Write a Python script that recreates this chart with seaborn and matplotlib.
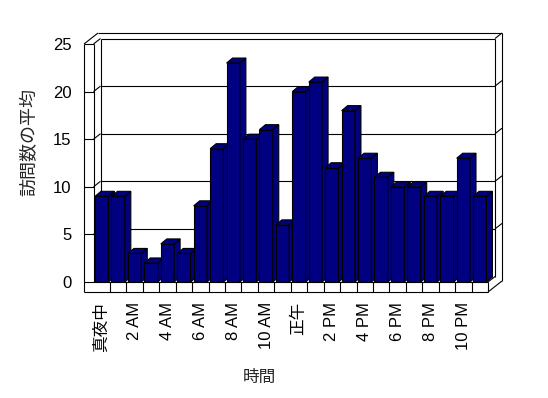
import matplotlib
matplotlib.use("Agg")
import matplotlib.pyplot as plt
import seaborn as sns
import pandas as pd
from matplotlib.patches import Polygon

hours = list(range(24))
visits = [9, 9, 3, 2, 4, 3, 8, 14, 23, 15, 16, 6, 20, 21, 12, 18, 13, 11, 10, 10, 9, 9, 13, 9]
tick_pos = [0, 2, 4, 6, 8, 10, 12, 14, 16, 18, 20, 22]
tick_labels = ["真夜中", "2 AM", "4 AM", "6 AM", "8 AM", "10 AM", "正午",
               "2 PM", "4 PM", "6 PM", "8 PM", "10 PM"]
y_ticks = [0, 5, 10, 15, 20, 25]
x_title = "時間"
y_title = "訪問数の平均"

sns.set_theme(style="white")
plt.rcParams["font.family"] = ["Liberation Sans", "Noto Sans CJK JP"]

W, H = 548, 398
fig = plt.figure(figsize=(W / 100, H / 100), dpi=100)
fig.patch.set_facecolor("white")
ax = fig.add_axes([93.5 / W, (H - 282) / H, 394.5 / W, 238 / H])
ax.set_facecolor("none")

df = pd.DataFrame({"hour": hours, "visits": visits})
NAVY = "#000080"
sns.barplot(data=df, x="hour", y="visits", color=NAVY, saturation=1,
            width=0.81, edgecolor="black", linewidth=0.8, ax=ax)

ax.set_xlim(-0.5, 23.5)
ax.set_ylim(0, 25)
for s in ax.spines.values():
    s.set_visible(False)
ax.grid(False)

# data units per pixel
pxx = 1 / 16.4375
pxy = 25 / 238.0
LW = "black"
lw = 0.8

# 3D bar faces
bdx, bdy = 6 * pxx, 5 * pxy
for i, p in enumerate(ax.patches):
    x0 = p.get_x(); w = p.get_width(); h = p.get_height()
    z = 5 + i * 0.1
    p.set_zorder(z)
    side = Polygon([(x0 + w, 0), (x0 + w + bdx, bdy), (x0 + w + bdx, h + bdy), (x0 + w, h)],
                   closed=True, facecolor=NAVY, edgecolor="black", linewidth=lw,
                   zorder=z + 0.01, clip_on=False)
    top = Polygon([(x0, h), (x0 + w, h), (x0 + w + bdx, h + bdy), (x0 + bdx, h + bdy)],
                  closed=True, facecolor=NAVY, edgecolor="black", linewidth=lw,
                  zorder=z + 0.02, clip_on=False)
    ax.add_patch(side)
    ax.add_patch(top)

# 3D frame (walls and floor)
x0f, x1f = -0.5, 23.5
xw = -0.5 - 9.5 * pxx
fb = -10 * pxy
dx, dy = 7 * pxx, 5.5 * pxy
top = 25


def seg(xs, ys, z=1):
    ax.plot(xs, ys, color=LW, linewidth=lw, clip_on=False, zorder=z,
            solid_capstyle="butt")

# left wall front face
seg([xw, xw], [fb, top])
seg([x0f, x0f], [0, top])
seg([xw, x0f], [top, top])
# floor front face
seg([xw, x1f], [fb, fb])
seg([xw, x1f], [0, 0])
seg([x1f, x1f], [fb, 0])
for b in range(23):
    seg([b + 0.5, b + 0.5], [fb, 0])
# inner back wall
seg([x0f + dx, x1f + dx], [top + dy, top + dy])
seg([x1f + dx, x1f + dx], [dy, top + dy])
seg([x0f + dx, x0f + dx], [dy, top + dy])
seg([x0f, x0f + dx], [top, top + dy])
seg([x1f, x1f + dx], [0, dy])
# outer box
seg([xw, xw + 2 * dx], [top, top + 2 * dy])
seg([xw + 2 * dx, x1f + 2 * dx], [top + 2 * dy, top + 2 * dy])
seg([x1f + 2 * dx, x1f + 2 * dx], [fb + 2 * dy, top + 2 * dy])
seg([x1f, x1f + 2 * dx], [fb, fb + 2 * dy])
seg([x1f + dx, x1f + 2 * dx], [top + dy, top + 2 * dy])
# gridlines
for v in y_ticks[1:-1]:
    seg([x0f + dx, x1f + dx], [v + dy, v + dy])
    seg([x0f, x0f + dx], [v, v + dy])
    seg([xw, x0f], [v, v])
    seg([x1f + dx, x1f + 2 * dx], [v + dy, v + 2 * dy])

ax.set_yticks(y_ticks)
ax.set_yticklabels([str(t) for t in y_ticks])
ax.set_xticks(tick_pos)
ax.set_xticklabels(tick_labels, rotation=90)
ax.tick_params(axis="y", length=0, pad=15.7, labelsize=12, colors="black")
ax.tick_params(axis="x", length=0, pad=14.4, labelsize=12, colors="black")
ax.set_xlabel("")
ax.set_ylabel("")

fig.text(259 / W, 1 - 377 / H, x_title, ha="center", va="center", fontsize=12)
fig.text(30 / W, 1 - 142 / H, y_title, ha="center", va="center", fontsize=13,
         rotation=90)

fig.savefig("out.png", dpi=100)
